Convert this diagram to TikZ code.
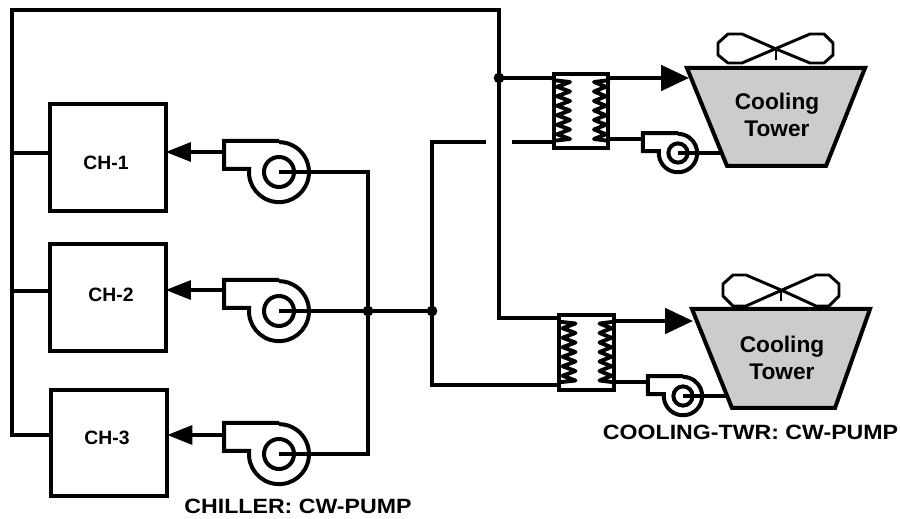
\documentclass[tikz,border=0pt]{standalone}
\usepackage{fontspec}
\setmainfont{Liberation Sans}
\newfontfamily\plainlabel[FakeStretch=1.12]{Liberation Sans Bold}
\usetikzlibrary{arrows.meta}
\definecolor{towergray}{HTML}{CCCCCC}
\tikzset{
  x=0.75pt,y=0.75pt,
  pipe/.style={line width=3pt,line join=miter,line cap=butt},
  flow/.style={pipe,-{Triangle[length=21pt,width=19pt]}},
  chflow/.style={pipe,-{Triangle[length=19pt,width=14pt]}},
  chillerbox/.style={draw,line width=3pt,rectangle,minimum width=87pt,minimum height=80pt,inner sep=0pt,outer sep=0pt},
  hxbox/.style={draw,line width=3pt,rectangle,minimum width=41pt,minimum height=56pt,inner sep=0pt,outer sep=0pt},
  chname/.style={font=\bfseries\fontsize{14.5pt}{16pt}\selectfont,inner sep=0pt},
  towername/.style={font=\bfseries\fontsize{17pt}{19.5pt}\selectfont,align=center,inner sep=0pt},
  caption/.style={font=\plainlabel\fontsize{15.5pt}{17pt}\selectfont,inner sep=0pt},
  junction/.style={circle,fill=black,inner sep=0pt,minimum size=8pt},
  towershape/.style={line width=3pt,fill=towergray,line join=miter},
  fanshape/.style={line width=2.2pt,line join=round},
  pumpshape/.pic={
    \draw[pipe] (0,31) -- (-55,31) -- (-55,3) -- (-29.85,3)
      arc[start angle=174,end angle=450,radius=30];
    \draw[pipe] (0,0) circle[radius=15];
  },
  coils/.pic={
    \draw[line width=2.9pt,line join=round]
      (-29,31) -- (-11,29)
      \foreach \i in {0,...,5}{ -- (-24,{24.25-\i*9.5}) -- (-11,{19.5-\i*9.5}) }
      -- (-29,-30);
    \draw[line width=2.9pt,line join=round]
      (29,31) -- (13,29)
      \foreach \i in {0,...,5}{ -- (25,{24.25-\i*9.5}) -- (13,{19.5-\i*9.5}) }
      -- (29,-30);
  },
}
\begin{document}
\begin{tikzpicture}
\useasboundingbox (0,0) rectangle (900,518);
% chillers
\node[chillerbox] (ch1) at (107.5,360.5) {};
\node[chillerbox] (ch2) at (107.5,220.5) {};
\node[chillerbox] (ch3) at (109,75) {};
\node[chname] (t1) at (106,355) {CH-1};
\node[chname] (t2) at (111,223) {CH-2};
\node[chname] (t3) at (107,80) {CH-3};
% heat exchangers
\node[hxbox] (hx1) at (581,407) {};
\node[hxbox] (hx2) at (586.5,165.5) {};
% points
\coordinate (tl) at (12,508);
\coordinate (tr) at (499,508);
\coordinate (bl) at (12,83);
\coordinate (j1) at (499,440);
\coordinate (b2) at (499,200);
\coordinate (hx1a) at (552,440);
\coordinate (hx1b) at (610,440);
\coordinate (hx1c) at (552,376);
\coordinate (hx1d) at (610,379);
\coordinate (tw1a) at (689,440);
\coordinate (hx2a) at (557,200);
\coordinate (hx2b) at (616,197);
\coordinate (hx2c) at (557,133);
\coordinate (hx2d) at (616,136);
\coordinate (tw2a) at (693,197);
\coordinate (p1) at (279,346);
\coordinate (p2) at (279,207);
\coordinate (p3) at (279,64);
\coordinate (sp1) at (678,365);
\coordinate (sp2) at (683,122);
\coordinate (j2) at (368,207);
\coordinate (j3) at (432,207);
\coordinate (gapl) at (486,376);
\coordinate (gapr) at (512,376);
% chilled-side main
\draw[pipe] (ch3.west |- bl) -- (bl) -- (tl) -- (tr) -- (b2) -- (hx2a);
\draw[pipe] (12,365) -- (ch1.west |- 0,365);
\draw[pipe] (12,227) -- (ch2.west |- 0,227);
\draw[pipe] (j1) -- (hx1a);
% condenser-side
\draw[pipe] (p1) -- (368,346) -- (368,64) -- (p3);
\draw[pipe] (p2) -- (j3);
\draw[pipe] (gapl) -- (432,376) -- (432,133) -- (hx2c);
\draw[pipe] (gapr) -- (hx1c);
\node[junction] at (j1) {};
\node[junction] at (j2) {};
\node[junction] at (j3) {};
% pump discharges
\draw[chflow] (224,366) -- (ch1.east |- 0,366);
\draw[chflow] (224,228) -- (ch2.east |- 0,228);
\draw[chflow] (224,83) -- (ch3.east |- 0,83);
\draw[flow] (hx1b) -- (tw1a);
\draw[flow] (hx2b) -- (tw2a);
\draw[pipe] (hx1d) -- (643,379);
\draw[pipe] (hx2d) -- (648,136);
\draw[pipe] (sp1) -- (722,365);
\draw[pipe] (sp2) -- (733,122);
% pumps
\pic at (p1) {pumpshape};
\pic at (p2) {pumpshape};
\pic at (p3) {pumpshape};
\pic[scale=0.64] at (sp1) {pumpshape};
\pic[scale=0.64] at (sp2) {pumpshape};
% coils
\pic at (hx1) {coils};
\pic at (hx2) {coils};
% towers
\draw[towershape] (687,450) -- (865,450) -- (826,352) -- (727,352) -- cycle;
\draw[towershape] (692,209) -- (870,209) -- (835,110) -- (732,110) -- cycle;
\node[towername] (tw1) at (777,403) {Cooling\\[1pt]Tower};
\node[towername] (tw2) at (782,160) {Cooling\\[1pt]Tower};
% fans
\coordinate (f1) at (776,469);
\draw[fanshape] (f1) -- (742,484) -- (728,484) -- (718,475) -- (718,463) -- (728,455) -- (742,455)
  -- (810,484) -- (824,484) -- (833,475) -- (833,463) -- (824,455) -- (810,455) -- cycle;
\draw[fanshape] (f1) -- (776,458);
\coordinate (f2) at (781,228);
\draw[fanshape] (f2) -- (746,243) -- (733,243) -- (723,234) -- (723,222) -- (733,212) -- (746,212)
  -- (816,243) -- (829,243) -- (839,234) -- (839,222) -- (829,212) -- (816,212) -- cycle;
\draw[fanshape] (f2) -- (781,217);
% captions
\node[caption] (c1) at (298,12) {CHILLER: CW-PUMP};
\node[caption] (c2) at (750.5,86) {COOLING-TWR: CW-PUMP};
\end{tikzpicture}
\end{document}
